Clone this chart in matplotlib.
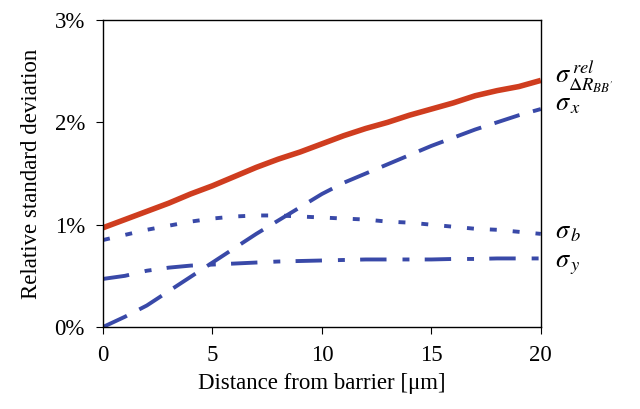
import matplotlib
matplotlib.use("Agg")
import matplotlib.pyplot as plt
from matplotlib.ticker import FuncFormatter

plt.rcParams['font.family'] = ['Liberation Serif', 'DejaVu Serif']
plt.rcParams['mathtext.fontset'] = 'stix'
plt.rcParams['lines.scale_dashes'] = False

distance = list(range(0, 21))
sigma_rel = [0.97, 1.05, 1.13, 1.21, 1.30, 1.38, 1.47, 1.56, 1.64, 1.71, 1.79,
             1.87, 1.94, 2.00, 2.07, 2.13, 2.19, 2.26, 2.31, 2.35, 2.41]
sigma_x = [0.00, 0.10, 0.21, 0.35, 0.49, 0.63, 0.77, 0.91, 1.04, 1.17, 1.30,
           1.41, 1.50, 1.59, 1.68, 1.77, 1.85, 1.93, 2.00, 2.07, 2.13]
sigma_b = [0.85, 0.90, 0.95, 0.99, 1.03, 1.06, 1.08, 1.09, 1.09, 1.08, 1.07,
           1.06, 1.05, 1.03, 1.02, 1.00, 0.98, 0.96, 0.95, 0.93, 0.91]
sigma_y = [0.47, 0.50, 0.55, 0.58, 0.60, 0.61, 0.62, 0.63, 0.64, 0.645, 0.65,
           0.655, 0.66, 0.66, 0.66, 0.66, 0.665, 0.665, 0.67, 0.67, 0.67]

labels = [r"$\sigma^{\,rel}_{\Delta R_{BB'}}$", r'$\sigma_{\,x}$',
          r'$\sigma_{\,b}$', r'$\sigma_{\,y}$']
label_y = [2.45, 2.17, 0.92, 0.60]

red = '#cf3d1f'
blue = '#3949a8'

fig = plt.figure(figsize=(6.4, 4.09), dpi=100)
ax = fig.add_axes([0.161, 0.2005, 0.684, 0.7505])

ax.plot(distance, sigma_rel, color=red, lw=4.0, solid_capstyle='butt')
ax.plot(distance, sigma_x, color=blue, lw=2.8, dashes=(19, 10))
ax.plot(distance, sigma_b, color=blue, lw=2.8, dashes=(5, 11.5))
ax.plot(distance, sigma_y, color=blue, lw=2.8, dashes=(19, 11.5, 5, 11))

for lab, yv in zip(labels, label_y):
    ax.text(20.65, yv, lab, fontsize=19, va='center', ha='left', clip_on=False)

ax.set_xlim(0, 20)
ax.set_ylim(0, 3)
ax.set_xticks([0, 5, 10, 15, 20])
ax.set_yticks([0, 1, 2, 3])
ax.yaxis.set_major_formatter(FuncFormatter(lambda v, p: f'{int(round(v))}%'))
ax.tick_params(direction='out', length=5, width=0.8, labelsize=16.5, pad=8)
for s in ax.spines.values():
    s.set_linewidth(1.0)
ax.set_xlabel('Distance from barrier [μm]', fontsize=16.5, labelpad=5)
ax.set_ylabel('Relative standard deviation', fontsize=16.5, labelpad=9)

fig.savefig('out.png', dpi=100, facecolor='white')
